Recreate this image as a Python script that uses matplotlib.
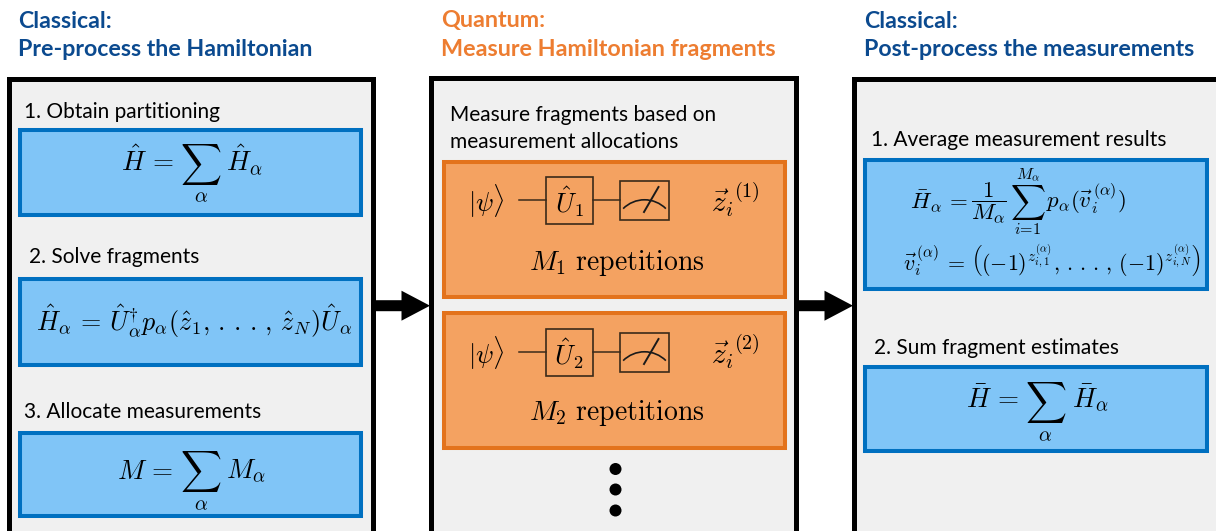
import matplotlib
matplotlib.use("Agg")
import matplotlib.pyplot as plt
from matplotlib.patches import Rectangle, FancyArrow, Arc, Circle

plt.rcParams["font.family"] = ["Lato", "DejaVu Sans"]
plt.rcParams["mathtext.fontset"] = "cm"

NAVY = "#0b4a8f"
ORANGE = "#ed7d31"
BLUE_FILL = "#80c5f7"
BLUE_EDGE = "#0070c0"
ORANGE_FILL = "#f4a261"
ORANGE_EDGE = "#e3731c"
PANEL = "#f0f0f0"

# headings
titles_left = ["Classical:", "Pre-process the Hamiltonian"]
titles_mid = ["Quantum:", "Measure Hamiltonian fragments"]
titles_right = ["Classical:", "Post-process the measurements"]

# step labels
steps_left = ["1. Obtain partitioning", "2. Solve fragments", "3. Allocate measurements"]
steps_mid = ["Measure fragments based on", "measurement allocations"]
steps_right = ["1. Average measurement results", "2. Sum fragment estimates"]

# formulas, split up where the sum needs its own size
SUM = r"$\sum$"
ALPHA = r"$\alpha$"
h_hat_lhs = r"$\hat{H}\,=$"
h_hat_rhs = r"$\hat{H}_{\alpha}$"
m_lhs = r"$M\,=$"
m_rhs = r"$M_{\alpha}$"
h_bar_lhs = r"$\bar{H}\,=$"
h_bar_rhs = r"$\bar{H}_{\alpha}$"
fragment_eq = (r"$\hat{H}_{\alpha}\,=\,\hat{U}_{\alpha}^{\dagger}p_{\alpha}(\hat{z}_1,\,.\,.\,.\,,\,"
               r"\hat{z}_N)\hat{U}_{\alpha}$")
avg_lhs = r"$\bar{H}_{\alpha}\,=$"
avg_frac = r"$\dfrac{1}{M_{\alpha}}$"
avg_upper = r"$M_{\alpha}$"
avg_lower = r"$i\!=\!1$"
avg_rhs = r"$p_{\alpha}(\vec{v}_i^{\,(\alpha)})$"
vec_eq = (r"$\vec{v}_i^{\,(\alpha)}\,=\,\left((-1)^{z_{i,1}^{(\alpha)}},\,.\,.\,.\,,\,"
          r"(-1)^{z_{i,N}^{(\alpha)}}\right)$")
unitaries = [r"$\hat{U}_1$", r"$\hat{U}_2$"]
outcomes = [r"$\vec{z}_i$", r"$\vec{z}_i$"]
outcome_ids = [r"$(1)$", r"$(2)$"]
repeats = [r"$M_1\ \mathrm{repetitions}$", r"$M_2\ \mathrm{repetitions}$"]
psi = r"$|\psi\rangle$"

fig = plt.figure(figsize=(12.16, 5.31), dpi=100)
ax = fig.add_axes([0, 0, 1, 1])
ax.set_xlim(0, 1216)
ax.set_ylim(531, 0)
ax.axis("off")


def box(x0, y0, x1, y1, fill, edge, lw):
    ax.add_patch(Rectangle((x0, y0), x1 - x0, y1 - y0, fc=fill, ec=edge, lw=lw, zorder=2))


def label(x, y, s, size=15, **kw):
    ax.text(x, y, s, fontsize=size, va="center", zorder=5, **kw)


def math(x, y, s, size, ha="left", va="baseline"):
    ax.text(x, y, s, fontsize=size, ha=ha, va=va, zorder=5)


def sum_eq(x_lhs, x_sum, x_rhs, base, y_sum, y_alpha, lhs, rhs):
    math(x_lhs, base, lhs, 19.5)
    math(x_sum, y_sum, SUM, 20.5, ha="center", va="center")
    math(x_sum, y_alpha, ALPHA, 14.5, ha="center", va="center")
    math(x_rhs, base, rhs, 19.5)


# panels, they run off the bottom of the image
box(8.5, 78.5, 373, 532.5, PANEL, "black", 3.6)
box(430.5, 77.5, 795.5, 560, PANEL, "black", 3.6)
box(854, 78.5, 1230, 560, PANEL, "black", 3.6)

# headings
for x, pair, col, size in [(18, titles_left, NAVY, 16.65), (441, titles_mid, ORANGE, 16.8),
                           (864, titles_right, NAVY, 16.65)]:
    label(x, 21, pair[0], size, color=col, weight="bold")
    label(x, 50, pair[1], size, color=col, weight="bold")

# left panel
label(24, 112, steps_left[0])
label(29, 257, steps_left[1])
label(24, 412, steps_left[2])
box(20, 130, 361, 214.5, BLUE_FILL, BLUE_EDGE, 2.9)
box(20, 279, 361, 365, BLUE_FILL, BLUE_EDGE, 2.9)
box(20, 433, 361, 516, BLUE_FILL, BLUE_EDGE, 2.9)
sum_eq(121, 201, 226, 171, 164.5, 197, h_hat_lhs, h_hat_rhs)
math(36, 331, fragment_eq, 18.8)
sum_eq(117, 201, 226, 479, 471.7, 505, m_lhs, m_rhs)

# middle panel
label(450, 115, steps_mid[0])
label(450, 142, steps_mid[1])
for i, (y0, y1, yc) in enumerate([(162, 297, 200), (312.5, 448, 352)]):
    box(444, y0, 785, y1, ORANGE_FILL, ORANGE_EDGE, 2.9)
    math(486, yc + 1, psi, 19, ha="center", va="center")
    ax.plot([519, 546], [yc, yc], color="#3a2a1a", lw=1.1, zorder=3)
    ax.plot([593, 620], [yc, yc], color="#3a2a1a", lw=1.1, zorder=3)
    box(546, yc - 23, 593, yc + 24, "none", "#3a2a1a", 1.2)
    box(620, yc - 19, 669, yc + 20, "none", "#3a2a1a", 1.2)
    math(569, yc + 2, unitaries[i], 19, ha="center", va="center")
    ax.add_patch(Arc((644.5, yc + 30), 60.4, 60.4, theta1=225, theta2=315, color="#1a1a1a", lw=1.2, zorder=4))
    ax.plot([644, 658.5], [yc + 12, yc - 13], color="#1a1a1a", lw=1.4, zorder=4)
    math(711, yc + 12, outcomes[i], 21)
    math(747, yc - 8.5, outcome_ids[i], 14.5, ha="center", va="center")
    math(529, y0 + 108, repeats[i], 20)
for y in [469, 489.5, 510.5]:
    ax.add_patch(Circle((615.5, y), 6, fc="black", ec="none", zorder=5))

# right panel
label(871, 140, steps_right[0])
label(874, 348, steps_right[1])
box(865, 159.5, 1207, 289, BLUE_FILL, BLUE_EDGE, 2.9)
box(865, 367, 1207, 451, BLUE_FILL, BLUE_EDGE, 2.9)
math(910, 208, avg_lhs, 16.5)
math(989, 203, avg_frac, 16.5, ha="center", va="center")
math(1027.7, 203, SUM, 17.5, ha="center", va="center")
math(1027.7, 175, avg_upper, 11.5, ha="center", va="center")
math(1027.7, 230, avg_lower, 11.5, ha="center", va="center")
math(1046, 208, avg_rhs, 16.5)
math(903, 270, vec_eq, 15.8)
sum_eq(966, 1045.5, 1071.7, 408, 402.5, 436, h_bar_lhs, h_bar_rhs)

# arrows between the panels
for x0 in [373, 796]:
    ax.add_patch(FancyArrow(x0, 305.7, 57, 0, width=11, head_width=30, head_length=28.5,
                            length_includes_head=True, fc="black", ec="none", zorder=6))

fig.savefig("out.png", dpi=100)
